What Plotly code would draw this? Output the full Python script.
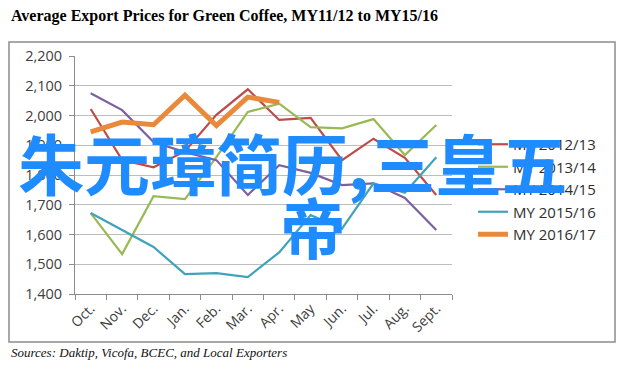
import plotly.graph_objects as go

# ---- data ----
months = ["Oct.", "Nov.", "Dec.", "Jan.", "Feb.", "Mar.", "Apr.", "May", "Jun.", "Jul.", "Aug.", "Sept."]
my_2012_13 = [2022, 1850, 1826, 1880, 2002, 2088, 1985, 1992, 1850, 1922, 1858, 1733]
my_2013_14 = [1672, 1534, 1729, 1719, 1860, 2012, 2040, 1961, 1957, 1988, 1867, 1968]
my_2014_15 = [2075, 2018, 1911, 1877, 1850, 1733, 1833, 1807, 1766, 1772, 1723, 1615]
my_2015_16 = [1672, 1615, 1558, 1467, 1470, 1457, 1540, 1665, 1620, 1772, 1740, 1860]
my_2016_17 = [1945, 1978, 1969, 2068, 1966, 2062, 2044]
series_names = ["MY 2012/13", "MY 2013/14", "MY 2014/15", "MY 2015/16", "MY 2016/17"]
y_ticks = [1400, 1500, 1600, 1700, 1800, 1900, 2000, 2100, 2200]

title_text = "Average Export Prices for Green Coffee, MY11/12 to MY15/16"
source_text = "Sources: Daktip, Vicofa, BCEC, and Local Exporters"
overlay_line1 = "朱元璋简历,三皇五"
overlay_line2 = "帝"

# ---- layout geometry (pixels) ----
W, H = 628, 372
PL, PR, PT, PB = 75, 452, 56, 294  # plot area


def px(xp):
    return (xp - PL) / (PR - PL)


def py(yp):
    return (PB - yp) / (PB - PT)


colors = ["#BE4B48", "#98B954", "#7D60A0", "#3FA3BB", "#E8893B"]
widths = [2.2, 2.2, 2.2, 2.2, 5]
values = [my_2012_13, my_2013_14, my_2014_15, my_2015_16, my_2016_17]

fig = go.Figure()
for name, vals, c, w in zip(series_names, values, colors, widths):
    fig.add_trace(go.Scatter(
        x=months[:len(vals)], y=vals, mode="lines", name=name,
        line=dict(color=c, width=w), legendgroup=name,
    ))

serif = "Liberation Serif"

fig.update_layout(
    width=W, height=H,
    margin=dict(l=PL, r=W - PR, t=PT, b=H - PB),
    paper_bgcolor="white", plot_bgcolor="white",
    showlegend=True,
    legend=dict(
        x=px(473), xanchor="left", y=py(128), yanchor="top",
        font=dict(family="Open Sans", size=15, color="#303030"),
        bgcolor="rgba(0,0,0,0)", tracegroupgap=7, traceorder="normal",
    ),
    xaxis=dict(
        type="category", categoryorder="array", categoryarray=months,
        range=[-0.5, 11.5], tickson="boundaries", ticks="outside", ticklen=5,
        tickcolor="#8C8C8C", showline=True, linecolor="#8C8C8C", linewidth=1,
        showgrid=False, tickangle=-45,
        tickfont=dict(family="Open Sans", size=14, color="#404040"),
    ),
    yaxis=dict(
        range=[1400, 2200], tickvals=y_ticks, tickformat=",",
        ticks="outside", ticklen=5, tickcolor="#8C8C8C",
        showline=True, linecolor="#8C8C8C", linewidth=1,
        showgrid=True, gridcolor="#BDBDBD", gridwidth=1,
        tickfont=dict(family="Open Sans", size=14.5, color="#404040"),
        ticklabelstandoff=4, zeroline=False,
    ),
)

# outer chart border
fig.add_shape(type="rect", xref="paper", yref="paper",
              x0=px(9), x1=px(615), y0=py(342), y1=py(42),
              line=dict(color="#8C8C8C", width=1.5), layer="below")

# title
fig.add_annotation(text="<b>" + title_text + "</b>", xref="paper", yref="paper",
                   x=px(9), y=py(16), xanchor="left", yanchor="middle", showarrow=False,
                   font=dict(family=serif, size=16, color="black"))
# source
fig.add_annotation(text="<i>" + source_text + "</i>", xref="paper", yref="paper",
                   x=px(9), y=py(352), xanchor="left", yanchor="middle", showarrow=False,
                   font=dict(family=serif, size=13, color="#111111"))

# overlay text
ov_font = dict(family="Noto Sans CJK SC", size=66, color="#1E8CFF")
fig.add_annotation(text="<b>" + overlay_line1 + "</b>", xref="paper", yref="paper",
                   x=px(292), y=py(161), xanchor="center", yanchor="middle", showarrow=False,
                   font=ov_font)
fig.add_annotation(text="<b>" + overlay_line2 + "</b>", xref="paper", yref="paper",
                   x=px(313), y=py(225), xanchor="center", yanchor="middle", showarrow=False,
                   font=ov_font)

fig.write_html("out.html", config={"displayModeBar": False},
               post_script="document.body.style.margin='0';document.body.style.padding='0';")
